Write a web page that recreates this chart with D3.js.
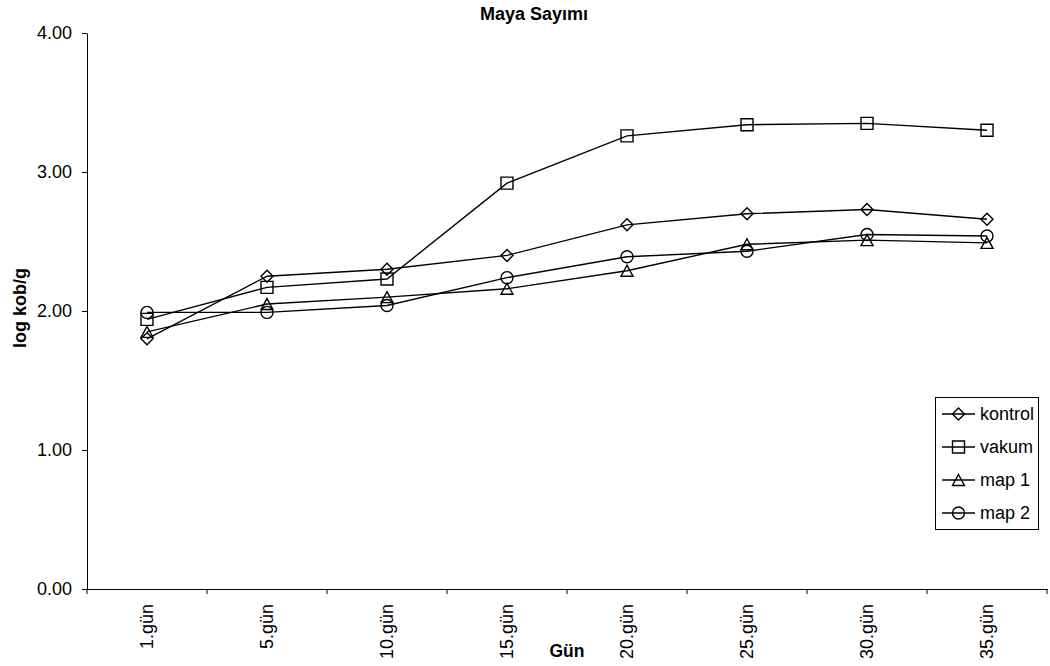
<!DOCTYPE html>
<html>
<head>
<meta charset="utf-8">
<script src="https://cdn.jsdelivr.net/npm/d3@7"></script>
<style>
  html, body { margin: 0; padding: 0; background: #fff; }
  svg { display: block; font-family: "Liberation Sans", Arial, sans-serif; }
</style>
</head>
<body>
<svg id="chart" width="1050" height="666"></svg>
<script>
// Yeast counts (log cfu/g) over storage days
const categories = ["1.gün", "5.gün", "10.gün", "15.gün", "20.gün", "25.gün", "30.gün", "35.gün"];
const kontrol = [1.80, 2.25, 2.30, 2.40, 2.62, 2.70, 2.73, 2.66];
const vakum   = [1.94, 2.17, 2.23, 2.92, 3.26, 3.34, 3.35, 3.30];
const map1    = [1.85, 2.05, 2.10, 2.16, 2.29, 2.48, 2.51, 2.49];
const map2    = [1.99, 1.99, 2.04, 2.24, 2.39, 2.43, 2.55, 2.54];
const yTicks  = [0, 1, 2, 3, 4];

const series = [
  { name: "kontrol", values: kontrol, marker: "diamond" },
  { name: "vakum",   values: vakum,   marker: "square" },
  { name: "map 1",   values: map1,    marker: "triangle" },
  { name: "map 2",   values: map2,    marker: "circle" }
];

const svg = d3.select("#chart");
const plotLeft = 87, plotRight = 1047, plotTop = 33, plotBottom = 589;

const x = d3.scaleBand().domain(categories).range([plotLeft, plotRight]).padding(0);
const y = d3.scaleLinear().domain([0, 4]).range([plotBottom, plotTop]);
const cx = c => x(c) + x.bandwidth() / 2;

// marker path generators, centred on 0,0
function markerPath(type) {
  switch (type) {
    case "diamond":  return "M0,-6L6,0L0,6L-6,0Z";
    case "square":   return "M-6,-6H6V6H-6Z";
    case "triangle": return "M0,-5.5L6,5.5H-6Z";
    default:         return "M6,0A6,6 0 1,1 -6,0A6,6 0 1,1 6,0Z";
  }
}

// Y axis
const yAxis = svg.append("g")
  .attr("transform", `translate(${plotLeft},0)`)
  .call(d3.axisLeft(y).tickValues(yTicks).tickFormat(d3.format(".2f"))
    .tickSize(5).tickSizeOuter(0).tickPadding(10));
yAxis.selectAll("text").attr("font-size", 18).attr("fill", "#000")
  .attr("font-family", "'Liberation Sans', Arial, sans-serif");
yAxis.selectAll("line, path").attr("stroke", "#000");

// X axis: labels at category centres, ticks at category boundaries
const xAxis = svg.append("g")
  .attr("transform", `translate(0,${plotBottom})`)
  .call(d3.axisBottom(x).tickSize(0).tickSizeOuter(0));
xAxis.select("path.domain").attr("stroke", "#000");
xAxis.selectAll("text")
  .attr("font-size", 18).attr("fill", "#000")
  .attr("font-family", "'Liberation Sans', Arial, sans-serif")
  .attr("text-anchor", "end")
  .attr("transform", "translate(0,15) rotate(-90)")
  .attr("x", 0).attr("y", 0).attr("dy", "0.35em");
const bounds = categories.map(c => x(c)).concat([x.range()[1]]);
xAxis.selectAll("line.bound").data(bounds).enter().append("line")
  .attr("class", "bound")
  .attr("x1", d => d).attr("x2", d => d)
  .attr("y1", 0).attr("y2", 5)
  .attr("stroke", "#000");

// Series lines and markers
const line = d3.line().x((d, i) => cx(categories[i])).y(d => y(d));
series.forEach(s => {
  svg.append("path")
    .datum(s.values)
    .attr("d", line)
    .attr("fill", "none")
    .attr("stroke", "#000")
    .attr("stroke-width", 1.4);
  svg.selectAll(null).data(s.values).enter().append("path")
    .attr("d", markerPath(s.marker))
    .attr("transform", (d, i) => `translate(${cx(categories[i])},${y(d)})`)
    .attr("fill", "none")
    .attr("stroke", "#000")
    .attr("stroke-width", 1.4);
});

// Titles
svg.append("text")
  .attr("x", 534).attr("y", 20)
  .attr("text-anchor", "middle")
  .attr("font-size", 18).attr("font-weight", "bold")
  .text("Maya Sayımı");

svg.append("text")
  .attr("x", 567).attr("y", 657)
  .attr("text-anchor", "middle")
  .attr("font-size", 17.5).attr("font-weight", "bold")
  .text("Gün");

svg.append("text")
  .attr("transform", "translate(26,308) rotate(-90)")
  .attr("text-anchor", "middle")
  .attr("font-size", 18).attr("font-weight", "bold")
  .text("log kob/g");

// Legend
const lg = svg.append("g");
lg.append("rect")
  .attr("x", 935.5).attr("y", 397.5)
  .attr("width", 103).attr("height", 132)
  .attr("fill", "#fff").attr("stroke", "#000");
series.forEach((s, i) => {
  const ly = 414 + i * 33;
  lg.append("line")
    .attr("x1", 942).attr("x2", 975)
    .attr("y1", ly).attr("y2", ly)
    .attr("stroke", "#000").attr("stroke-width", 1.4);
  lg.append("path")
    .attr("d", markerPath(s.marker))
    .attr("transform", `translate(958.5,${ly})`)
    .attr("fill", "none").attr("stroke", "#000").attr("stroke-width", 1.4);
  lg.append("text")
    .attr("x", 980).attr("y", ly).attr("dy", "0.35em")
    .attr("font-size", 18)
    .text(s.name);
});
</script>
</body>
</html>
